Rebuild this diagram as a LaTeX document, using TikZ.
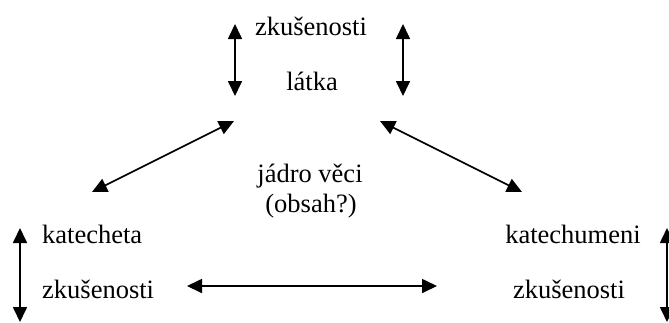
\documentclass[tikz,border=0pt]{standalone}
\usepackage{fontspec}
\setmainfont{Liberation Serif}
\usetikzlibrary{arrows.meta}
\begin{document}
\begin{tikzpicture}[x=1pt,y=-1pt,
  lbl/.style={inner sep=0pt,anchor=base,font=\fontsize{26.5}{30}\selectfont},
  conn/.style={line width=1.7pt,{Triangle[length=15pt,width=14pt]}-{Triangle[length=15pt,width=14pt]}}]
\useasboundingbox (0,0) rectangle (669,322);
\node[lbl] (zt) at (311,35) {zkušenosti};
\node[lbl] (lt) at (312,90) {látka};
\node[lbl] (jv) at (310,182) {jádro věci};
\node[lbl] (ob) at (311,212) {(obsah?)};
\node[lbl,anchor=base west] (kt) at (42,243) {katecheta};
\node[lbl,anchor=base west] (zl) at (42,298) {zkušenosti};
\node[lbl] (km) at (573,243) {katechumeni};
\node[lbl] (zr) at (569,298) {zkušenosti};
\coordinate (a1) at (235,24); \coordinate (a2) at (235,96);
\coordinate (b1) at (403,24); \coordinate (b2) at (403,96);
\coordinate (c1) at (234,121); \coordinate (c2) at (92,192);
\coordinate (d1) at (380,121); \coordinate (d2) at (522,192);
\coordinate (e1) at (187,286); \coordinate (e2) at (437,286);
\coordinate (f1) at (20,228); \coordinate (f2) at (20,322);
\coordinate (g1) at (667,228); \coordinate (g2) at (667,322);
\draw[conn] (a1) -- (a2);
\draw[conn] (b1) -- (b2);
\draw[conn] (c1) -- (c2);
\draw[conn] (d1) -- (d2);
\draw[conn] (e1) -- (e2);
\draw[conn] (f1) -- (f2);
\draw[conn] (g1) -- (g2);
\end{tikzpicture}
\end{document}
